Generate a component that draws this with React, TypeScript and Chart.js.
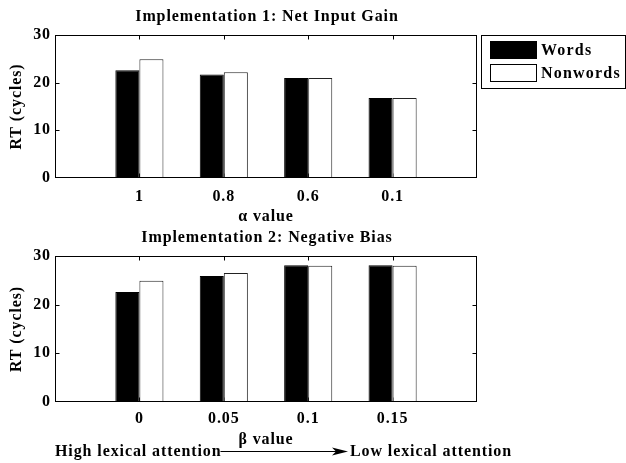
import React, { useEffect, useRef } from "react";
import { Chart, registerables } from "chart.js";

Chart.register(...registerables);

// ---- data ----
const alphaLabels = ["1", "0.8", "0.6", "0.1"];
const alphaWords = [22.6, 21.7, 21.0, 16.8];
const alphaNonwords = [24.9, 22.2, 21.0, 16.8];

const betaLabels = ["0", "0.05", "0.1", "0.15"];
const betaWords = [22.6, 25.9, 28.1, 28.1];
const betaNonwords = [24.9, 26.5, 28.0, 28.0];

const yTickValues = [0, 10, 20, 30];
const seriesNames = ["Words", "Nonwords"];
const chartTitles = ["Implementation 1: Net Input Gain", "Implementation 2: Negative Bias"];
const xTitles = ["\u03b1 value", "\u03b2 value"];
const yTitle = "RT (cycles)";
const attentionLabels = ["High lexical attention", "Low lexical attention"];

const FONT = "'Liberation Serif', 'Times New Roman', serif";
const FS = 16;
const LS = "0.9px";
const W = 626;

const spacingPlugin = {
  id: "spacing",
  beforeDraw(chart: any) {
    chart.ctx.letterSpacing = LS;
  },
};

const titlePlugin = {
  id: "customTitle",
  afterDraw(chart: any) {
    const { ctx, chartArea: a } = chart;
    const text = chart.options.plugins.customTitle?.text;
    if (!text) return;
    ctx.save();
    ctx.letterSpacing = LS;
    ctx.fillStyle = "#000";
    ctx.font = `bold ${FS}px ${FONT}`;
    ctx.textAlign = "center";
    ctx.textBaseline = "middle";
    ctx.fillText(text, (a.left + a.right) / 2 + 1, a.top - 18);
    ctx.restore();
  },
};

const boxPlugin = {
  id: "boxTicks",
  beforeDatasetsDraw(chart: any) {
    const { ctx, chartArea: a, scales } = chart;
    ctx.save();
    ctx.strokeStyle = "#000";
    ctx.lineWidth = 1;
    ctx.beginPath();
    const L = Math.round(a.left) + 0.5;
    const R = Math.round(a.right) - 0.5;
    const T = Math.round(a.top) + 0.5;
    const B = Math.round(a.bottom) - 0.5;
    yTickValues.forEach((v) => {
      if (v === 0 || v === 30) return;
      const py = Math.round(scales.y.getPixelForValue(v)) + 0.5;
      ctx.moveTo(L, py);
      ctx.lineTo(L + 4, py);
      ctx.moveTo(R, py);
      ctx.lineTo(R - 4, py);
    });
    for (let i = 1; i <= 4; i++) {
      const px = Math.round(scales.x.getPixelForValue(i)) + 0.5;
      ctx.moveTo(px, T);
      ctx.lineTo(px, T + 4);
      ctx.moveTo(px, B);
      ctx.lineTo(px, B - 4);
    }
    ctx.stroke();
    ctx.restore();
  },
  afterDatasetsDraw(chart: any) {
    const { ctx, chartArea: a } = chart;
    ctx.save();
    ctx.strokeStyle = "#000";
    ctx.lineWidth = 1;
    const L = Math.round(a.left) + 0.5;
    const R = Math.round(a.right) - 0.5;
    const T = Math.round(a.top) + 0.5;
    const B = Math.round(a.bottom) - 0.5;
    ctx.strokeRect(L, T, R - L, B - T);
    ctx.restore();
  },
};

const legendPlugin = {
  id: "boxLegend",
  afterDraw(chart: any) {
    if (!chart.options.plugins.boxLegend?.show) return;
    const { ctx } = chart;
    ctx.save();
    ctx.letterSpacing = "1.2px";
    ctx.strokeStyle = "#000";
    ctx.lineWidth = 1;
    ctx.strokeRect(481.5, 35.5, 144, 53);
    ctx.font = `bold 16px ${FONT}`;
    ctx.textBaseline = "middle";
    ctx.textAlign = "left";
    chart.data.datasets.forEach((ds: any, i: number) => {
      const y = 41 + i * 23;
      ctx.fillStyle = ds.backgroundColor;
      ctx.fillRect(490, y, 47, 18);
      ctx.strokeStyle = "#000";
      ctx.strokeRect(490.5, y + 0.5, 46, 17);
      ctx.fillStyle = "#000";
      ctx.fillText(ds.label, 541, y + 10);
    });
    ctx.restore();
  },
};

const arrowPlugin = {
  id: "attentionArrow",
  afterDraw(chart: any) {
    if (!chart.options.plugins.attentionArrow?.show) return;
    const { ctx } = chart;
    const y = 221;
    ctx.save();
    ctx.letterSpacing = LS;
    ctx.fillStyle = "#000";
    ctx.strokeStyle = "#000";
    ctx.font = `bold ${FS}px ${FONT}`;
    ctx.textBaseline = "middle";
    ctx.textAlign = "left";
    ctx.fillText(attentionLabels[0], 55, y + 1);
    const w0 = ctx.measureText(attentionLabels[0]).width;
    ctx.lineWidth = 1;
    ctx.beginPath();
    ctx.moveTo(55 + w0 - 1, y + 0.5);
    ctx.lineTo(336, y + 0.5);
    ctx.stroke();
    ctx.beginPath();
    ctx.moveTo(348, y + 0.5);
    ctx.lineTo(332, y - 3.5);
    ctx.lineTo(336, y + 0.5);
    ctx.lineTo(332, y + 4.5);
    ctx.closePath();
    ctx.fill();
    ctx.fillText(attentionLabels[1], 350, y + 1);
    ctx.restore();
  },
};

function makeConfig(
  labels: string[],
  words: number[],
  nonwords: number[],
  title: string,
  xTitle: string,
  opts: { top: number; xHeight: number; xTitlePad: number; tickPad: number; legend: boolean; arrow: boolean }
): any {
  const lbls = ["", ...labels, ""];
  const pad = (arr: number[]) => [null, ...arr, null];
  const font = { family: FONT, size: FS, weight: "bold" };
  return {
    type: "bar",
    data: {
      labels: lbls,
      datasets: [
        {
          label: seriesNames[0],
          data: pad(words),
          backgroundColor: "#000000",
          borderColor: "#000000",
          borderWidth: 1,
          categoryPercentage: 0.57,
          barPercentage: 1,
        },
        {
          label: seriesNames[1],
          data: pad(nonwords),
          backgroundColor: "#ffffff",
          borderColor: "#222222",
          borderWidth: 1,
          categoryPercentage: 0.57,
          barPercentage: 1,
        },
      ],
    },
    options: {
      animation: false,
      responsive: false,
      maintainAspectRatio: false,
      devicePixelRatio: 1,
      layout: { padding: { left: 0, top: opts.top, right: W - 477, bottom: 0 } },
      plugins: {
        legend: { display: false },
        tooltip: { enabled: false },
        title: { display: false },
        customTitle: { text: title },
        boxLegend: { show: opts.legend },
        attentionArrow: { show: opts.arrow },
      },
      scales: {
        x: {
          type: "category",
          offset: false,
          grid: { display: false, drawTicks: false },
          border: { display: false },
          ticks: {
            autoSkip: false,
            maxRotation: 0,
            padding: opts.tickPad,
            color: "#000",
            font,
          },
          title: {
            display: true,
            text: xTitle,
            color: "#000",
            font,
            padding: { top: 0, bottom: opts.xTitlePad },
          },
          afterFit: (s: any) => {
            s.height = opts.xHeight;
          },
        },
        y: {
          min: 0,
          max: 30,
          grid: { display: false, drawTicks: false },
          border: { display: false },
          ticks: {
            stepSize: 10,
            padding: 4,
            color: "#000",
            font,
          },
          title: {
            display: true,
            text: yTitle,
            color: "#000",
            font,
            padding: { top: 7.5, bottom: 0 },
          },
          afterFit: (s: any) => {
            s.width = 55;
          },
        },
      },
    },
    plugins: [spacingPlugin, titlePlugin, boxPlugin, legendPlugin, arrowPlugin],
  };
}

export default function App() {
  const ref1 = useRef<HTMLCanvasElement>(null);
  const ref2 = useRef<HTMLCanvasElement>(null);

  useEffect(() => {
    const c1 = new Chart(
      ref1.current as HTMLCanvasElement,
      makeConfig(alphaLabels, alphaWords, alphaNonwords, chartTitles[0], xTitles[0], {
        top: 35,
        xHeight: 52,
        xTitlePad: 3.5,
        tickPad: 9.5,
        legend: true,
        arrow: false,
      })
    );
    const c2 = new Chart(
      ref2.current as HTMLCanvasElement,
      makeConfig(betaLabels, betaWords, betaNonwords, chartTitles[1], xTitles[1], {
        top: 26,
        xHeight: 61,
        xTitlePad: 13.5,
        tickPad: 7.5,
        legend: false,
        arrow: true,
      })
    );
    return () => {
      c1.destroy();
      c2.destroy();
    };
  }, []);

  return (
    <div style={{ position: "absolute", left: 0, top: 0, width: W, height: 463, background: "#fff" }}>
      <canvas
        ref={ref1}
        width={W}
        height={230}
        style={{ position: "absolute", left: 0, top: 0, width: W, height: 230 }}
      />
      <canvas
        ref={ref2}
        width={W}
        height={233}
        style={{ position: "absolute", left: 0, top: 230, width: W, height: 233 }}
      />
    </div>
  );
}
